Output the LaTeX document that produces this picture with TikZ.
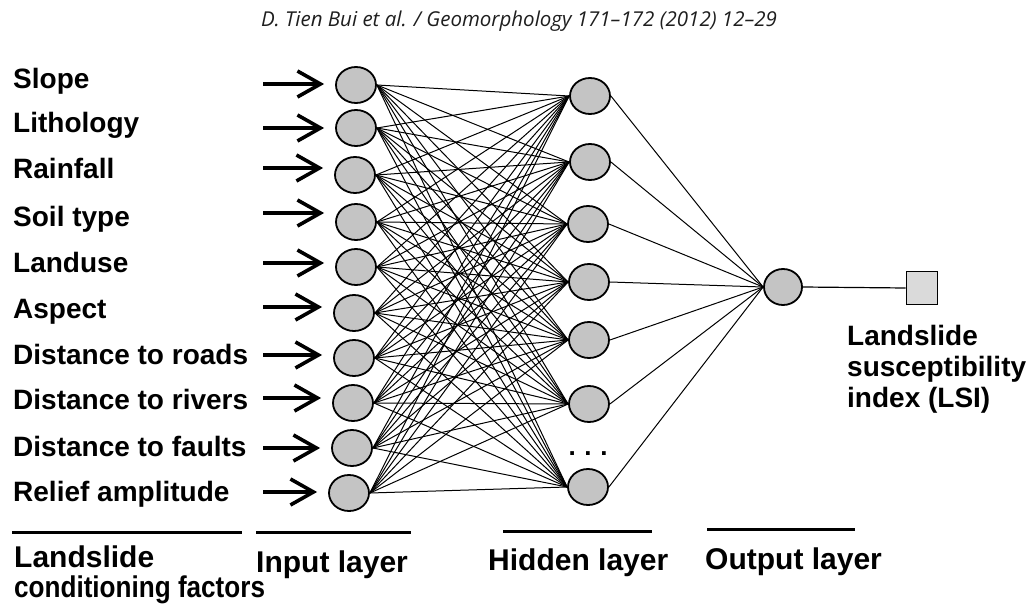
\documentclass[tikz,border=0pt]{standalone}
\usepackage{fontspec}
\setmainfont{Liberation Sans}
\newfontfamily\hdrfont{Open Sans}
\usetikzlibrary{arrows.meta,shapes.geometric}
\definecolor{nfill}{RGB}{196,196,196}
\definecolor{sqfill}{RGB}{218,218,218}
\definecolor{hdrgray}{RGB}{30,30,30}
\begin{document}
\begin{tikzpicture}[x=1pt,y=-1pt,
  neuron/.style={ellipse, draw, line width=1.8pt, fill=nfill, minimum width=40pt, minimum height=36pt, inner sep=0pt},
  outsq/.style={rectangle, draw, line width=1.8pt, fill=sqfill, minimum width=31pt, minimum height=33pt, inner sep=0pt},
  lbl/.style={font=\bfseries\fontsize{28}{31}\selectfont, anchor=base west, inner sep=0pt},
  mlbl/.style={font=\bfseries\fontsize{28}{31}\selectfont, anchor=north west, inner sep=0pt, align=left},
  blbl/.style={font=\bfseries\fontsize{30}{31}\selectfont, anchor=base west, inner sep=0pt},
  conn/.style={line width=1pt},
  inarrow/.style={line width=3.6pt, -{Straight Barb[length=23pt,width=26pt]}, shorten >=11pt},
  rule/.style={line width=3pt}]
\useasboundingbox (0,0) rectangle (1027,604);

% header
\node[font=\hdrfont\itshape\fontsize{20.5}{20.5}\selectfont, text=hdrgray, anchor=base, inner sep=0pt] (hdr) at (519,27) {D. Tien Bui et al. / Geomorphology 171–172 (2012) 12–29};

% input layer
\foreach \n/\x/\y in {1/356/85,2/356/128,3/355/175,4/356/222,5/356/267,6/354/313,7/354/358,8/353/403,9/352/448,10/349/493}
  \node[neuron] (in\n) at (\x,\y) {};

% hidden layer
\foreach \n/\x/\y in {1/590/96,2/590/162,3/588/224,4/589/282,5/589/340,6/589/404,7/588/487}
  \node[neuron] (h\n) at (\x,\y) {};
\node[font=\bfseries\fontsize{26}{26}\selectfont, anchor=base, inner sep=0pt] (dots) at (588,455) {.\,\,.\,\,.};

% output layer
\node[neuron, minimum width=38pt] (o) at (783,287) {};
\node[outsq] (lsi) at (922,288) {};

% connections
\foreach \i in {1,...,10}
  \foreach \j in {1,...,7}
    \draw[conn] (in\i.east) -- (h\j.west);
\foreach \j in {1,...,7}
  \draw[conn] (h\j.east) -- (o.west);
\draw[line width=1.2pt] (o.east) -- (lsi.west);

% input labels and arrows
\foreach \n/\t/\by/\ay in {1/Slope/88.5/84,2/Lithology/132.5/128,3/Rainfall/178.5/168,4/Soil type/226.5/213,5/Landuse/272.5/263,6/Aspect/318.5/307,7/Distance to roads/364.5/355,8/Distance to rivers/409.5/398,9/Distance to faults/456.5/448,10/Relief amplitude/501.5/492}{
  \node[lbl] (f\n) at (13,\by) {\t};
  \coordinate (s\n) at (263,\ay);
  \draw[inarrow] (s\n) -- (s\n -| in\n.west);
}

% LSI label
\node[mlbl] (lsilbl) at (847,325) {Landslide\\susceptibility\\index (LSI)};

% bottom rules and labels
\coordinate (r1a) at (12,532); \coordinate (r1b) at (242,532);
\coordinate (r2a) at (256,532); \coordinate (r2b) at (411,532);
\coordinate (r3a) at (503,531); \coordinate (r3b) at (652,531);
\coordinate (r4a) at (707,529); \coordinate (r4b) at (855,529);
\draw[rule] (r1a) -- (r1b);
\draw[rule] (r2a) -- (r2b);
\draw[rule] (r3a) -- (r3b);
\draw[rule] (r4a) -- (r4b);
\node[blbl] (blcf1) at (14,567) {Landslide};
\node[blbl, xscale=0.87] (blcf2) at (14,597) {conditioning factors};
\node[blbl] (blin) at (256,572) {Input layer};
\node[blbl] (blhid) at (488,570) {Hidden layer};
\node[blbl] (blout) at (705,569) {Output layer};
\end{tikzpicture}
\end{document}
